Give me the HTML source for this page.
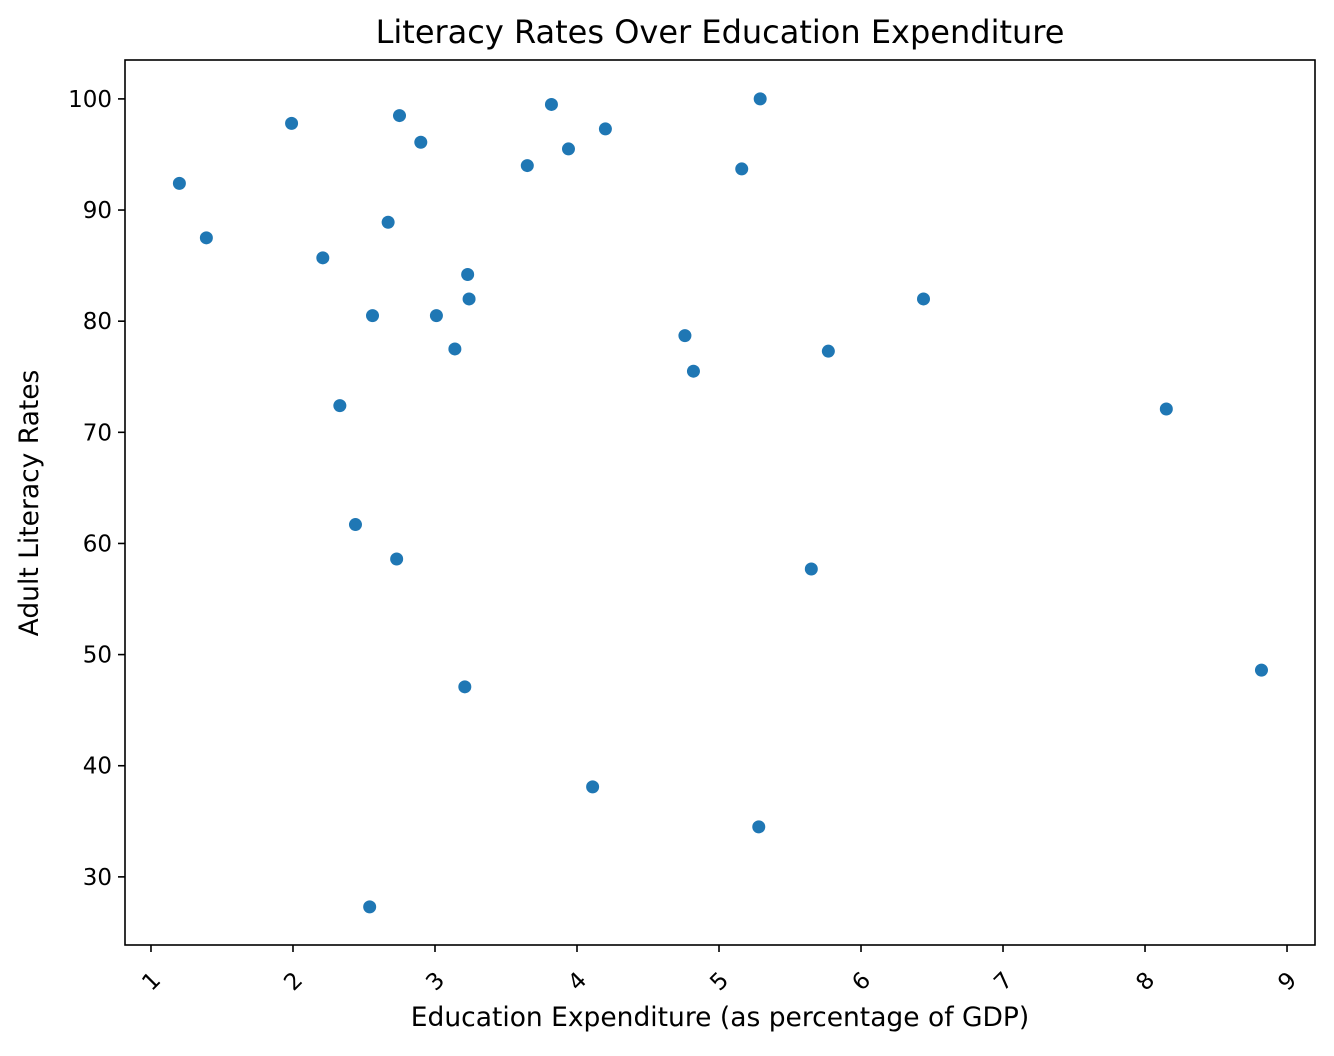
<!DOCTYPE html>
<html><head><meta charset="utf-8"><style>
body{margin:0;background:#fff;}
svg text{font-family:"DejaVu Sans","Liberation Sans",sans-serif;fill:#000;}
</style></head><body>
<svg id="chart" width="1334" height="1051" xmlns="http://www.w3.org/2000/svg">
<text x="720" y="43" font-size="32" text-anchor="middle">Literacy Rates Over Education Expenditure</text>
<g id="plot"></g>
<rect x="125" y="60" width="1190" height="885" fill="none" stroke="#000" stroke-width="1.6"/>
<text x="720" y="1026" font-size="26.5" text-anchor="middle">Education Expenditure (as percentage of GDP)</text>
<text transform="translate(38,503) rotate(-90)" font-size="26.5" text-anchor="middle">Adult Literacy Rates</text>
</svg>
<script>
const xs=[1.20,1.39,1.99,2.21,2.33,2.44,2.54,2.56,2.67,2.73,2.75,2.90,3.01,3.14,3.21,3.23,3.24,3.65,3.82,3.94,4.11,4.20,4.76,4.82,5.16,5.28,5.29,5.65,5.77,6.44,8.15,8.82];
const ys=[92.4,87.5,97.8,85.7,72.4,61.7,27.3,80.5,88.9,58.6,98.5,96.1,80.5,77.5,47.1,84.2,82.0,94.0,99.5,95.5,38.1,97.3,78.7,75.5,93.7,34.5,100.0,57.7,77.3,82.0,72.1,48.6];
const xTicks=[1,2,3,4,5,6,7,8,9];
const yTicks=[30,40,50,60,70,80,90,100];
const L=125,R=1315,T=60,B=945;
const xMin=0.817,xMax=9.197,yMin=23.87,yMax=103.5;
const sx=v=>L+(v-xMin)/(xMax-xMin)*(R-L);
const sy=v=>B-(v-yMin)/(yMax-yMin)*(B-T);
const NS="http://www.w3.org/2000/svg";
const svg=document.getElementById('chart');
function mk(t,a){const e=document.createElementNS(NS,t);for(const k in a)e.setAttribute(k,a[k]);return e;}
xTicks.forEach(v=>{
  const x=sx(v);
  const l=mk('line',{x1:x,x2:x,y1:B,y2:B+7,stroke:'#000','stroke-width':1.6});
  
  
  svg.appendChild(l);
  const t=mk('text',{'font-size':23,'text-anchor':'middle',transform:`translate(${x},${B+36}) rotate(-45)`,dy:'0.35em'});
  
  
  t.textContent=v;svg.appendChild(t);
});
yTicks.forEach(v=>{
  const y=sy(v);
  const l=mk('line',{x1:L-7,x2:L,y1:y,y2:y,stroke:'#000','stroke-width':1.6});
  
  
  svg.appendChild(l);
  const t=mk('text',{x:L-13,y:y+8,'font-size':23,'text-anchor':'end'});
  
  
  t.textContent=v;svg.appendChild(t);
});
const g=document.getElementById('plot');
xs.forEach((v,i)=>{
  const c=mk('circle',{cx:sx(v),cy:sy(ys[i]),r:6.5,fill:'#1f77b4'});
  
  
  g.appendChild(c);
});
</script>
</body></html>
